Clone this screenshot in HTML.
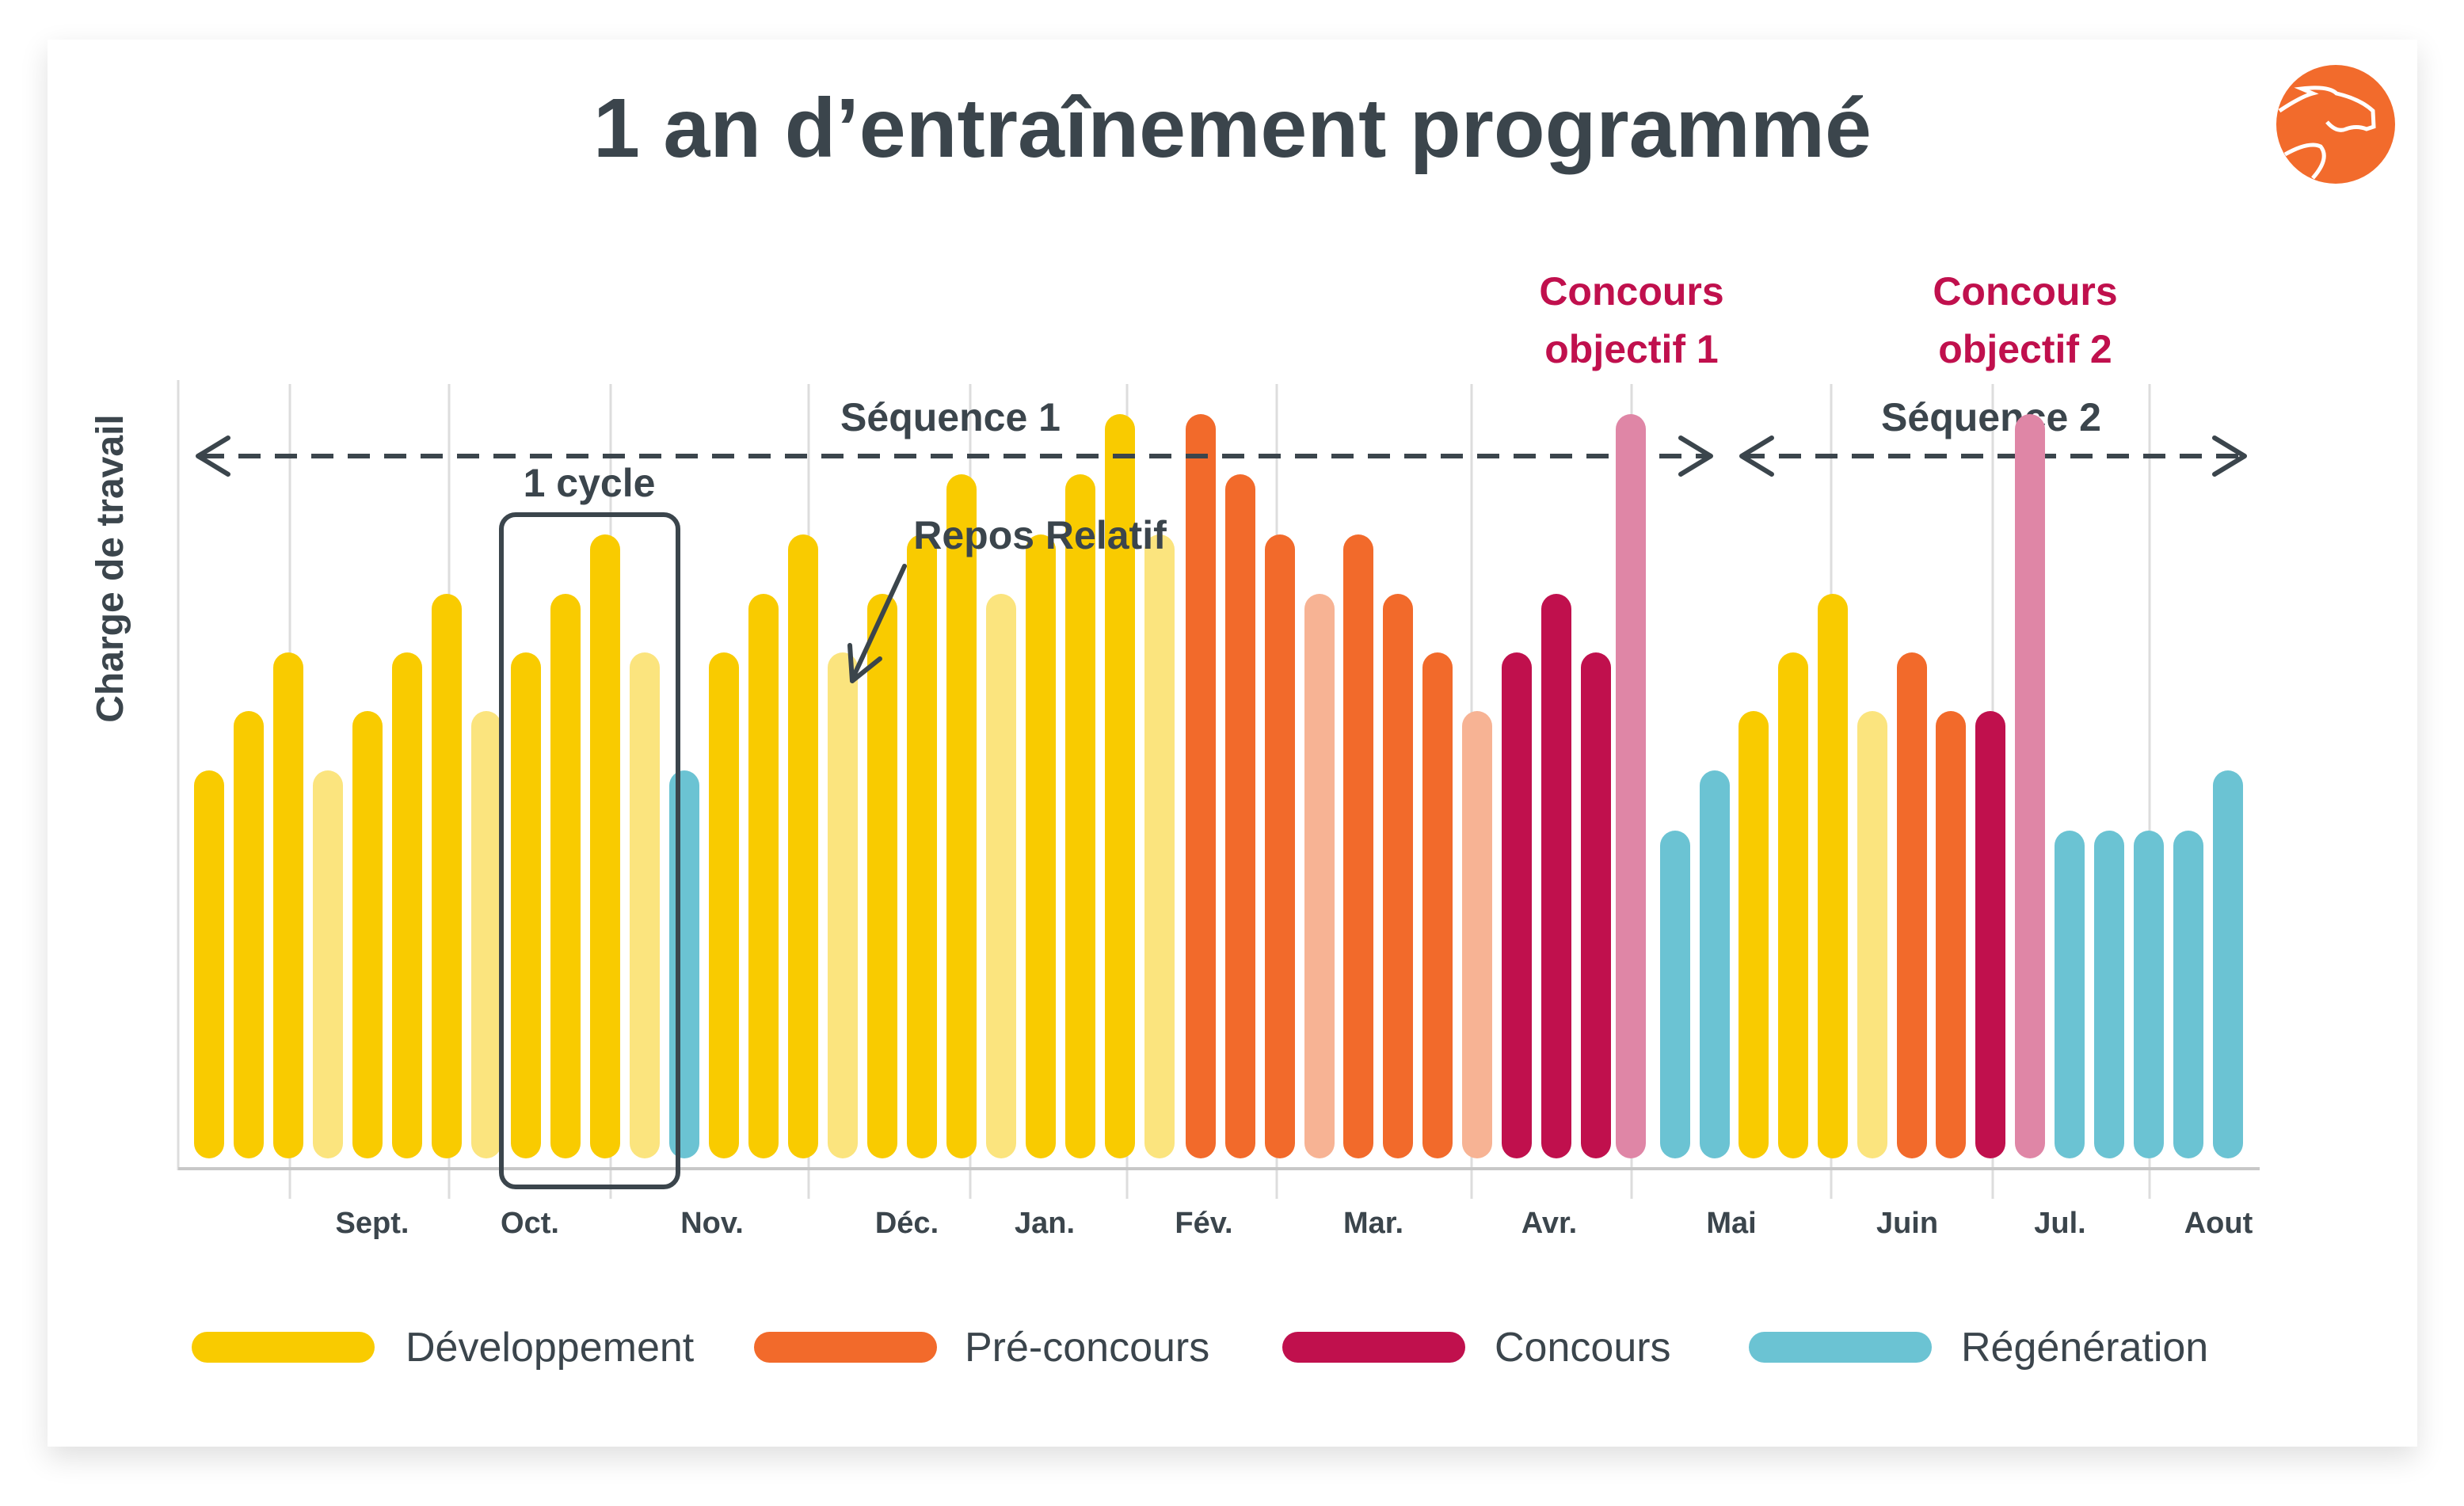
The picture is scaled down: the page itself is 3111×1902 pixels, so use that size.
<!DOCTYPE html>
<html><head><meta charset="utf-8"><style>
html,body{margin:0;padding:0;background:#f4f4f4;}
svg{display:block;}
text{font-family:"Liberation Sans",sans-serif;}
</style></head><body>
<svg width="3111" height="1902" viewBox="0 0 3111 1902" xmlns="http://www.w3.org/2000/svg">
<defs>
<filter id="sh" x="-5%" y="-5%" width="110%" height="115%"><feGaussianBlur stdDeviation="18"/></filter>
</defs>
<rect x="0" y="0" width="3111" height="1902" fill="#ffffff"/>
<rect x="60" y="62" width="2992" height="1780" fill="#000" opacity="0.12" filter="url(#sh)"/>
<rect x="60" y="50" width="2992" height="1777" fill="#ffffff"/>

<text x="1556" y="198" text-anchor="middle" font-size="106" font-weight="bold" fill="#3b454c">1 an d’entraînement programmé</text>

<circle cx="2949" cy="157" r="75" fill="#f26b2c"/>
<path d="M2878 140 Q2905 122 2920 118 L2906 112 Q2940 108 2950 118 Q2980 125 2996 140 L2997 160 L2988 163 Q2975 158 2962 163 Q2950 168 2938 154" fill="none" stroke="#fff" stroke-width="5"/>
<path d="M2885 195 Q2915 178 2930 185 Q2942 200 2920 225" fill="none" stroke="#fff" stroke-width="5"/>

<g stroke="#dddddd" stroke-width="3">
<line x1="366" y1="485" x2="366" y2="1514"/><line x1="567" y1="485" x2="567" y2="1514"/><line x1="771" y1="485" x2="771" y2="1514"/><line x1="1021" y1="485" x2="1021" y2="1514"/><line x1="1225" y1="485" x2="1225" y2="1514"/><line x1="1423" y1="485" x2="1423" y2="1514"/><line x1="1612" y1="485" x2="1612" y2="1514"/><line x1="1858" y1="485" x2="1858" y2="1514"/><line x1="2060" y1="485" x2="2060" y2="1514"/><line x1="2312" y1="485" x2="2312" y2="1514"/><line x1="2516" y1="485" x2="2516" y2="1514"/><line x1="2714" y1="485" x2="2714" y2="1514"/>
<line x1="225" y1="480" x2="225" y2="1478"/>
</g>
<line x1="225" y1="1476" x2="2853" y2="1476" stroke="#c8c8c8" stroke-width="4"/>

<text transform="translate(155,718) rotate(-90)" text-anchor="middle" font-size="48" font-weight="bold" fill="#3b454c">Charge de travail</text>

<g id="bars">
<rect x="245" y="973" width="38" height="490" rx="19" fill="#F9CB00"/>
<rect x="295" y="898" width="38" height="565" rx="19" fill="#F9CB00"/>
<rect x="345" y="824" width="38" height="639" rx="19" fill="#F9CB00"/>
<rect x="395" y="973" width="38" height="490" rx="19" fill="#FBE47E"/>
<rect x="445" y="898" width="38" height="565" rx="19" fill="#F9CB00"/>
<rect x="495" y="824" width="38" height="639" rx="19" fill="#F9CB00"/>
<rect x="545" y="750" width="38" height="713" rx="19" fill="#F9CB00"/>
<rect x="595" y="898" width="38" height="565" rx="19" fill="#FBE47E"/>
<rect x="645" y="824" width="38" height="639" rx="19" fill="#F9CB00"/>
<rect x="695" y="750" width="38" height="713" rx="19" fill="#F9CB00"/>
<rect x="745" y="675" width="38" height="788" rx="19" fill="#F9CB00"/>
<rect x="795" y="824" width="38" height="639" rx="19" fill="#FBE47E"/>
<rect x="845" y="973" width="38" height="490" rx="19" fill="#6BC3D3"/>
<rect x="895" y="824" width="38" height="639" rx="19" fill="#F9CB00"/>
<rect x="945" y="750" width="38" height="713" rx="19" fill="#F9CB00"/>
<rect x="995" y="675" width="38" height="788" rx="19" fill="#F9CB00"/>
<rect x="1045" y="824" width="38" height="639" rx="19" fill="#FBE47E"/>
<rect x="1095" y="750" width="38" height="713" rx="19" fill="#F9CB00"/>
<rect x="1145" y="675" width="38" height="788" rx="19" fill="#F9CB00"/>
<rect x="1195" y="599" width="38" height="864" rx="19" fill="#F9CB00"/>
<rect x="1245" y="750" width="38" height="713" rx="19" fill="#FBE47E"/>
<rect x="1295" y="675" width="38" height="788" rx="19" fill="#F9CB00"/>
<rect x="1345" y="599" width="38" height="864" rx="19" fill="#F9CB00"/>
<rect x="1395" y="523" width="38" height="940" rx="19" fill="#F9CB00"/>
<rect x="1445" y="675" width="38" height="788" rx="19" fill="#FBE47E"/>
<rect x="1497" y="523" width="38" height="940" rx="19" fill="#F26A2B"/>
<rect x="1547" y="599" width="38" height="864" rx="19" fill="#F26A2B"/>
<rect x="1597" y="675" width="38" height="788" rx="19" fill="#F26A2B"/>
<rect x="1647" y="750" width="38" height="713" rx="19" fill="#F7B394"/>
<rect x="1696" y="675" width="38" height="788" rx="19" fill="#F26A2B"/>
<rect x="1746" y="750" width="38" height="713" rx="19" fill="#F26A2B"/>
<rect x="1796" y="824" width="38" height="639" rx="19" fill="#F26A2B"/>
<rect x="1846" y="898" width="38" height="565" rx="19" fill="#F7B394"/>
<rect x="1896" y="824" width="38" height="639" rx="19" fill="#C0104D"/>
<rect x="1946" y="750" width="38" height="713" rx="19" fill="#C0104D"/>
<rect x="1996" y="824" width="38" height="639" rx="19" fill="#C0104D"/>
<rect x="2096" y="1049" width="38" height="414" rx="19" fill="#6BC3D3"/>
<rect x="2146" y="973" width="38" height="490" rx="19" fill="#6BC3D3"/>
<rect x="2195" y="898" width="38" height="565" rx="19" fill="#F9CB00"/>
<rect x="2245" y="824" width="38" height="639" rx="19" fill="#F9CB00"/>
<rect x="2295" y="750" width="38" height="713" rx="19" fill="#F9CB00"/>
<rect x="2345" y="898" width="38" height="565" rx="19" fill="#FBE47E"/>
<rect x="2395" y="824" width="38" height="639" rx="19" fill="#F26A2B"/>
<rect x="2444" y="898" width="38" height="565" rx="19" fill="#F26A2B"/>
<rect x="2494" y="898" width="38" height="565" rx="19" fill="#C0104D"/>
<rect x="2594" y="1049" width="38" height="414" rx="19" fill="#6BC3D3"/>
<rect x="2644" y="1049" width="38" height="414" rx="19" fill="#6BC3D3"/>
<rect x="2694" y="1049" width="38" height="414" rx="19" fill="#6BC3D3"/>
<rect x="2744" y="1049" width="38" height="414" rx="19" fill="#6BC3D3"/>
<rect x="2794" y="973" width="38" height="490" rx="19" fill="#6BC3D3"/>
</g>

<g stroke="#3b454c" stroke-width="6" fill="none" stroke-linecap="round" stroke-linejoin="round">
<line x1="255" y1="576" x2="2160" y2="576" stroke-dasharray="28 18" stroke-linecap="butt"/>
<polyline points="288,553 250,576 288,599"/>
<polyline points="2122,553 2160,576 2122,599"/>
<line x1="2200" y1="576" x2="2833" y2="576" stroke-dasharray="28 18" stroke-linecap="butt"/>
<polyline points="2237,553 2199,576 2237,599"/>
<polyline points="2796,553 2834,576 2796,599"/>
<rect x="633" y="650" width="223" height="849" rx="18"/>
<line x1="1142" y1="715" x2="1076" y2="858"/>
<polyline points="1073,815 1076,860 1111,832"/>
</g>

<text x="1200" y="544" text-anchor="middle" font-size="50" font-weight="bold" fill="#3b454c">Séquence 1</text>
<text x="2514" y="544" text-anchor="middle" font-size="50" font-weight="bold" fill="#3b454c">Séquence 2</text>
<text x="744" y="627" text-anchor="middle" font-size="50" font-weight="bold" fill="#3b454c">1 cycle</text>
<text x="1313" y="693" text-anchor="middle" font-size="50" font-weight="bold" fill="#3b454c">Repos Relatif</text>

<rect x="2040" y="523" width="38" height="940" rx="19" fill="#DF86A6"/>
<rect x="2544" y="523" width="38" height="940" rx="19" fill="#DF86A6"/>

<g font-size="50" font-weight="bold" fill="#C0104D" text-anchor="middle">
<text x="2060" y="385">Concours</text><text x="2060" y="458">objectif 1</text>
<text x="2557" y="385">Concours</text><text x="2557" y="458">objectif 2</text>
</g>

<g font-size="38" font-weight="bold" fill="#3b454c" text-anchor="middle">
<text x="470" y="1557">Sept.</text><text x="669" y="1557">Oct.</text><text x="899" y="1557">Nov.</text><text x="1145" y="1557">Déc.</text><text x="1319" y="1557">Jan.</text><text x="1520" y="1557">Fév.</text><text x="1734" y="1557">Mar.</text><text x="1956" y="1557">Avr.</text><text x="2186" y="1557">Mai</text><text x="2408" y="1557">Juin</text><text x="2601" y="1557">Jul.</text><text x="2801" y="1557">Aout</text>
</g>

<g font-size="52" fill="#3b454c">
<rect x="242" y="1682" width="231" height="39" rx="19.5" fill="#F9CB00"/>
<text x="512" y="1719">Développement</text>
<rect x="952" y="1682" width="231" height="39" rx="19.5" fill="#F26A2B"/>
<text x="1218" y="1719">Pré-concours</text>
<rect x="1619" y="1682" width="231" height="39" rx="19.5" fill="#C0104D"/>
<text x="1887" y="1719">Concours</text>
<rect x="2208" y="1682" width="231" height="39" rx="19.5" fill="#6BC3D3"/>
<text x="2476" y="1719">Régénération</text>
</g>
</svg>
</body></html>
